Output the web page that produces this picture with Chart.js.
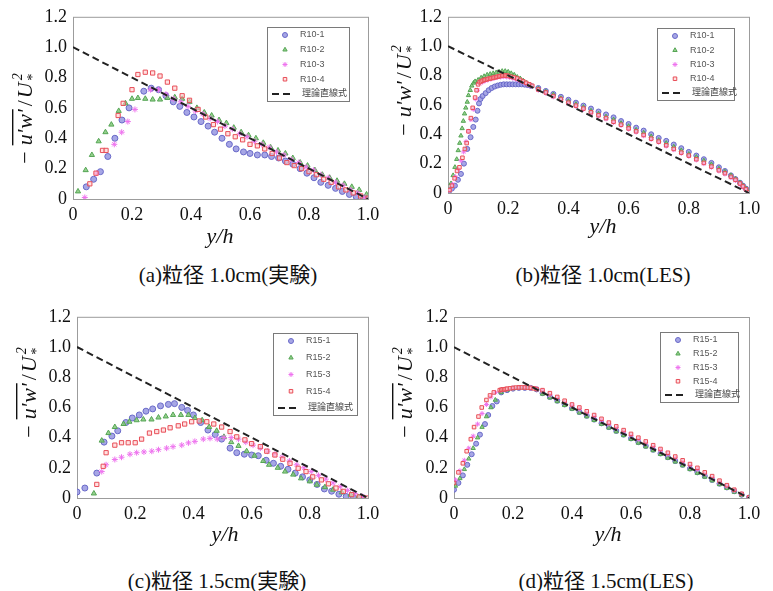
<!DOCTYPE html>
<html>
<head>
<meta charset="utf-8">
<script src="https://cdn.jsdelivr.net/npm/chart.js@4.4.0/dist/chart.umd.min.js"></script>
<style>
  body { margin: 0; background: #fff; width: 773px; height: 591px; position: relative; overflow: hidden; }
  canvas { position: absolute; }
  .cap { position: absolute; font-family: "Liberation Serif", "Noto Sans CJK JP", serif; font-size: 21px; color: #111; white-space: nowrap; transform: translateX(-50%); }
</style>
</head>
<body>
<canvas id="pa" width="386" height="250" style="left:0;top:0"></canvas>
<canvas id="pb" width="387" height="250" style="left:386px;top:0"></canvas>
<canvas id="pc" width="386" height="250" style="left:0;top:300px"></canvas>
<canvas id="pd" width="387" height="250" style="left:386px;top:300px"></canvas>
<div class="cap" style="left:228px;top:258px">(a)粒径 1.0cm(実験)</div>
<div class="cap" style="left:603px;top:258px">(b)粒径 1.0cm(LES)</div>
<div class="cap" style="left:217px;top:564px">(c)粒径 1.5cm(実験)</div>
<div class="cap" style="left:606px;top:564px">(d)粒径 1.5cm(LES)</div>
<script>
// tick labels and legend names
const xTicks = [0, 0.2, 0.4, 0.6, 0.8, 1.0];
const yTicks = [0, 0.2, 0.4, 0.6, 0.8, 1.0, 1.2];
const names10 = ["R10-1", "R10-2", "R10-3", "R10-4"];
const names15 = ["R15-1", "R15-2", "R15-3", "R15-4"];
const theoryName = "理論直線式";
const theoryX = [0, 1];
const theoryY = [1, 0];

// (a) 粒径 1.0cm 実験
const aX1 = [0.045,0.07,0.093,0.118,0.142,0.166,0.19,0.24,0.265,0.29,0.315,0.34,0.362,0.386,0.41,0.434,0.458,0.48,0.505,0.53,0.553,0.578,0.60,0.625,0.65,0.673,0.697,0.72,0.745,0.77,0.793,0.817,0.84,0.865,0.89,0.913,0.937,0.96,0.985];
const aY1 = [0.08,0.13,0.18,0.28,0.40,0.52,0.60,0.71,0.73,0.72,0.68,0.64,0.61,0.57,0.54,0.51,0.48,0.44,0.40,0.36,0.33,0.31,0.30,0.29,0.29,0.28,0.27,0.25,0.23,0.20,0.17,0.14,0.11,0.09,0.07,0.05,0.03,0.015,0.005];
const aX2 = [0.017,0.043,0.064,0.087,0.11,0.13,0.155,0.178,0.20,0.22,0.245,0.27,0.295,0.32,0.345,0.37,0.395,0.42,0.445,0.47,0.495,0.52,0.545,0.57,0.595,0.62,0.645,0.67,0.695,0.72,0.745,0.77,0.795,0.82,0.845,0.87,0.895,0.92,0.945,0.97,0.995];
const aY2 = [0.05,0.19,0.29,0.38,0.44,0.49,0.58,0.63,0.66,0.665,0.66,0.655,0.655,0.665,0.67,0.66,0.64,0.60,0.57,0.55,0.52,0.50,0.47,0.44,0.42,0.40,0.37,0.34,0.32,0.30,0.27,0.24,0.22,0.19,0.16,0.14,0.12,0.10,0.08,0.06,0.03];
const aX3 = [0.04,0.08,0.14,0.165,0.186,0.21,0.263,0.29,0.315,0.34,0.365,0.39,0.415,0.44,0.465,0.49,0.515,0.54,0.565,0.59,0.615,0.64,0.665,0.69,0.715,0.74,0.765,0.79,0.815,0.84,0.865,0.89,0.915,0.94,0.965,0.99];
const aY3 = [0.01,0.17,0.36,0.44,0.51,0.59,0.72,0.72,0.69,0.66,0.64,0.61,0.58,0.56,0.53,0.51,0.48,0.46,0.43,0.41,0.38,0.36,0.34,0.31,0.29,0.26,0.24,0.21,0.19,0.16,0.14,0.11,0.09,0.06,0.04,0.01];
const aX4 = [0.057,0.078,0.10,0.112,0.153,0.17,0.20,0.22,0.245,0.27,0.295,0.32,0.345,0.37,0.395,0.424,0.45,0.476,0.50,0.525,0.55,0.575,0.60,0.625,0.65,0.675,0.70,0.725,0.75,0.775,0.80,0.825,0.85,0.875,0.90,0.925,0.95,0.975,1.0];
const aY4 = [0.10,0.17,0.32,0.32,0.55,0.63,0.72,0.82,0.835,0.83,0.81,0.77,0.73,0.68,0.65,0.59,0.54,0.49,0.46,0.43,0.41,0.39,0.36,0.35,0.33,0.30,0.27,0.24,0.22,0.20,0.18,0.16,0.13,0.11,0.08,0.06,0.04,0.02,0.005];

// (b) 粒径 1.0cm LES : rising part near the bed, then the falling part
const bRiseX1 = [0.003,0.013,0.023,0.033,0.043,0.053,0.064,0.075,0.084,0.092,0.098,0.103,0.108,0.115,0.125,0.135,0.145,0.155,0.165,0.175,0.185,0.195,0.205,0.215,0.225,0.235,0.245,0.255,0.265,0.275];
const bRiseY1 = [0.01,0.03,0.05,0.09,0.13,0.20,0.30,0.38,0.45,0.50,0.56,0.61,0.64,0.66,0.68,0.70,0.715,0.725,0.732,0.737,0.74,0.74,0.74,0.74,0.74,0.74,0.74,0.738,0.735,0.73];
const bRiseX2 = [0.004,0.01,0.017,0.023,0.029,0.034,0.039,0.043,0.047,0.051,0.055,0.059,0.064,0.068,0.074,0.079,0.085,0.09,0.10,0.11,0.12,0.13,0.14,0.15,0.16,0.17,0.18,0.19,0.20,0.21,0.22,0.23,0.24,0.25,0.26,0.27];
const bRiseY2 = [0.02,0.065,0.12,0.176,0.23,0.29,0.34,0.39,0.44,0.49,0.54,0.58,0.62,0.665,0.70,0.73,0.75,0.76,0.77,0.785,0.795,0.805,0.81,0.815,0.82,0.825,0.83,0.83,0.825,0.815,0.805,0.79,0.78,0.765,0.75,0.735];
const bRiseX3 = [0.006,0.015,0.025,0.034,0.043,0.052,0.06,0.068,0.076,0.084,0.092,0.098,0.105,0.115,0.125,0.135,0.145,0.155,0.165,0.175,0.185,0.195,0.205,0.215,0.225,0.235,0.245,0.255,0.265,0.275];
const bRiseY3 = [0.02,0.06,0.11,0.16,0.22,0.28,0.35,0.42,0.50,0.57,0.64,0.70,0.745,0.755,0.765,0.772,0.778,0.783,0.788,0.79,0.792,0.79,0.787,0.782,0.776,0.768,0.76,0.75,0.74,0.73];
const bRiseX4 = [0.005,0.013,0.022,0.03,0.038,0.048,0.056,0.062,0.068,0.076,0.082,0.09,0.095,0.10,0.105,0.11,0.115,0.12,0.125,0.13,0.135,0.14,0.145,0.15,0.155,0.16,0.165,0.17,0.175,0.18,0.185,0.19,0.195,0.20,0.21,0.22,0.23,0.24,0.25,0.26,0.27,0.28];
const bRiseY4 = [0.02,0.05,0.10,0.15,0.175,0.24,0.30,0.34,0.42,0.51,0.58,0.65,0.70,0.74,0.755,0.76,0.765,0.77,0.772,0.775,0.778,0.78,0.782,0.785,0.787,0.79,0.792,0.795,0.797,0.80,0.80,0.80,0.80,0.797,0.792,0.787,0.78,0.77,0.76,0.75,0.74,0.73];
const bFallX = [0.3,0.325,0.35,0.375,0.4,0.425,0.45,0.475,0.5,0.525,0.55,0.575,0.6,0.625,0.65,0.675,0.7,0.725,0.75,0.775,0.8,0.825,0.85,0.875,0.9,0.92,0.94,0.955,0.97,0.98,0.99,1.0];
const bFallY1 = [0.715,0.695,0.675,0.655,0.635,0.615,0.595,0.575,0.555,0.535,0.515,0.49,0.47,0.445,0.425,0.40,0.375,0.355,0.33,0.305,0.28,0.255,0.23,0.205,0.175,0.15,0.12,0.095,0.07,0.05,0.03,0.01];
const bFallY2 = [0.71,0.69,0.67,0.645,0.625,0.605,0.585,0.56,0.54,0.52,0.50,0.475,0.455,0.43,0.41,0.385,0.36,0.34,0.315,0.29,0.265,0.245,0.22,0.195,0.165,0.145,0.12,0.095,0.07,0.05,0.03,0.01];
const bFallY3 = [0.70,0.68,0.655,0.635,0.61,0.59,0.57,0.545,0.525,0.505,0.48,0.46,0.435,0.415,0.39,0.365,0.345,0.32,0.295,0.27,0.25,0.225,0.20,0.175,0.15,0.13,0.105,0.085,0.06,0.04,0.02,0.005];
const bFallY4 = [0.705,0.685,0.66,0.64,0.615,0.595,0.575,0.55,0.53,0.51,0.485,0.465,0.44,0.42,0.395,0.37,0.35,0.325,0.30,0.275,0.255,0.23,0.205,0.18,0.155,0.135,0.11,0.09,0.065,0.045,0.025,0.005];

// (c) 粒径 1.5cm 実験
const cX1 = [0.0,0.027,0.068,0.093,0.12,0.14,0.168,0.19,0.214,0.237,0.26,0.287,0.314,0.335,0.36,0.38,0.40,0.425,0.45,0.475,0.497,0.526,0.549,0.575,0.60,0.623,0.65,0.675,0.70,0.725,0.75,0.775,0.80,0.825,0.85,0.875,0.9,0.925,0.95,0.975];
const cY1 = [0.04,0.066,0.165,0.37,0.41,0.445,0.50,0.53,0.55,0.575,0.59,0.61,0.62,0.625,0.60,0.58,0.55,0.50,0.45,0.42,0.39,0.33,0.30,0.29,0.285,0.28,0.25,0.23,0.21,0.19,0.165,0.14,0.12,0.09,0.06,0.045,0.025,0.01,0.004,0.0];
const cX2 = [0.058,0.085,0.108,0.13,0.16,0.18,0.205,0.228,0.256,0.28,0.305,0.33,0.357,0.383,0.405,0.43,0.454,0.48,0.505,0.53,0.555,0.583,0.61,0.64,0.66,0.69,0.715,0.743,0.77,0.80,0.824,0.852,0.88,0.91,0.94,0.967];
const cY2 = [0.03,0.38,0.43,0.47,0.49,0.505,0.515,0.52,0.52,0.533,0.54,0.55,0.55,0.55,0.53,0.515,0.47,0.445,0.405,0.37,0.345,0.31,0.28,0.245,0.22,0.20,0.175,0.155,0.13,0.11,0.088,0.072,0.055,0.037,0.022,0.007];
const cX3 = [0.085,0.10,0.13,0.153,0.182,0.205,0.23,0.257,0.28,0.308,0.33,0.36,0.383,0.405,0.434,0.457,0.482,0.505,0.53,0.555,0.58,0.605,0.63,0.655,0.68,0.705,0.73,0.755,0.78,0.805,0.83,0.855,0.88,0.905,0.93,0.955,0.98];
const cY3 = [0.175,0.22,0.255,0.27,0.29,0.30,0.305,0.31,0.32,0.33,0.34,0.35,0.365,0.375,0.39,0.395,0.39,0.40,0.40,0.39,0.37,0.35,0.33,0.31,0.29,0.27,0.245,0.22,0.20,0.175,0.15,0.125,0.10,0.075,0.05,0.03,0.01];
const cX4 = [0.068,0.09,0.10,0.13,0.153,0.176,0.20,0.222,0.249,0.274,0.297,0.32,0.348,0.37,0.394,0.42,0.446,0.47,0.497,0.526,0.549,0.577,0.60,0.63,0.652,0.68,0.707,0.732,0.76,0.787,0.81,0.84,0.864,0.89,0.915,0.944,0.97,0.995];
const cY4 = [0.09,0.21,0.30,0.35,0.366,0.366,0.366,0.39,0.43,0.44,0.45,0.465,0.478,0.49,0.505,0.51,0.505,0.49,0.47,0.44,0.405,0.385,0.36,0.34,0.31,0.285,0.257,0.23,0.197,0.175,0.14,0.12,0.094,0.066,0.044,0.022,0.007,0.0];

// (d) 粒径 1.5cm LES
const dRiseX1 = [0.0,0.015,0.03,0.045,0.06,0.075,0.088,0.105,0.116,0.13,0.145,0.16,0.18,0.20,0.22,0.24,0.26,0.28];
const dRiseY1 = [0.055,0.10,0.15,0.22,0.29,0.36,0.42,0.49,0.55,0.61,0.64,0.70,0.715,0.725,0.73,0.73,0.73,0.72];
const dRiseX2 = [0.005,0.02,0.035,0.05,0.065,0.08,0.095,0.11,0.125,0.14,0.16,0.18,0.20,0.22,0.24,0.26,0.28];
const dRiseY2 = [0.08,0.13,0.19,0.26,0.33,0.40,0.47,0.54,0.60,0.65,0.70,0.715,0.725,0.73,0.73,0.728,0.72];
const dRiseX3 = [0.005,0.02,0.035,0.05,0.065,0.08,0.095,0.11,0.125,0.14,0.16,0.18,0.20,0.22,0.24,0.26,0.28];
const dRiseY3 = [0.12,0.18,0.25,0.33,0.41,0.49,0.56,0.62,0.67,0.70,0.715,0.72,0.728,0.732,0.733,0.73,0.725];
const dRiseX4 = [0.0,0.015,0.03,0.043,0.057,0.068,0.083,0.094,0.11,0.122,0.135,0.155,0.16,0.165,0.17,0.175,0.18,0.19,0.20,0.21,0.22,0.23,0.24,0.25,0.26,0.27,0.28];
const dRiseY4 = [0.10,0.17,0.23,0.31,0.39,0.47,0.54,0.60,0.65,0.68,0.70,0.715,0.718,0.72,0.72,0.722,0.725,0.727,0.73,0.732,0.733,0.733,0.733,0.732,0.73,0.727,0.722];
const dFallX = [0.3,0.325,0.35,0.375,0.4,0.425,0.45,0.475,0.5,0.525,0.55,0.575,0.6,0.625,0.65,0.675,0.7,0.725,0.75,0.775,0.8,0.825,0.85,0.875,0.9,0.925,0.95,0.975,1.0];
const dFallY1 = [0.695,0.67,0.645,0.62,0.595,0.57,0.545,0.52,0.495,0.47,0.445,0.42,0.395,0.37,0.345,0.32,0.295,0.27,0.245,0.22,0.195,0.17,0.145,0.12,0.095,0.07,0.045,0.022,0.003];
const dFallY2 = [0.69,0.665,0.64,0.615,0.59,0.565,0.54,0.515,0.49,0.465,0.44,0.415,0.39,0.365,0.34,0.315,0.29,0.265,0.24,0.215,0.19,0.165,0.14,0.115,0.09,0.065,0.04,0.018,0.002];
const dFallY3 = [0.71,0.685,0.66,0.635,0.615,0.59,0.565,0.54,0.515,0.49,0.465,0.44,0.415,0.39,0.365,0.34,0.315,0.29,0.265,0.24,0.215,0.19,0.16,0.135,0.105,0.08,0.05,0.025,0.004];
const dFallY4 = [0.715,0.695,0.67,0.645,0.62,0.60,0.575,0.55,0.525,0.50,0.475,0.45,0.425,0.40,0.375,0.35,0.325,0.30,0.275,0.25,0.225,0.20,0.17,0.145,0.115,0.085,0.055,0.028,0.005];

function pts(xs, ys) {
  return xs.map((x, i) => ({ x: x, y: ys[i] }));
}

// marker looks for the four runs
const styles = [
  { pointStyle: "circle", borderColor: "rgb(105,105,200)", backgroundColor: "rgba(150,150,225,0.85)" },
  { pointStyle: "triangle", borderColor: "rgb(85,165,85)", backgroundColor: "rgba(130,200,120,0.85)" },
  { pointStyle: "star", borderColor: "rgb(238,115,238)", backgroundColor: "rgba(245,170,245,0.8)" },
  { pointStyle: "rect", borderColor: "rgb(232,78,88)", backgroundColor: "rgba(255,205,205,0.6)" },
];
const dash = [7, 4];

function fmt(v) {
  return v === 0 ? "0" : v.toFixed(1);
}

function drawYTitle(ctx, cx, cy, bar) {
  ctx.save();
  ctx.translate(cx, cy);
  ctx.rotate(-Math.PI / 2);
  const up = '22px "Liberation Serif"';
  const it = 'italic 22px "Liberation Serif"';
  const sm = 'italic 14px "Liberation Serif"';
  const parts = [
    { t: "\u2212", f: up, gap: 6 },
    { t: "u", f: it, gap: 0 },
    { t: "'", f: it, gap: 1 },
    { t: "w", f: it, gap: 0 },
    { t: "'", f: it, gap: 3 },
    { t: "/", f: up, gap: 2 },
    { t: "U", f: it, gap: 1 },
  ];
  let w = 0;
  parts.forEach((p) => {
    ctx.font = p.f;
    p.w = ctx.measureText(p.t).width;
    w += p.w + p.gap;
  });
  ctx.font = sm;
  w += ctx.measureText("2").width;
  let x = -w / 2;
  let b0 = 0, b1 = 0;
  ctx.fillStyle = "#111";
  ctx.textBaseline = "alphabetic";
  parts.forEach((p, i) => {
    ctx.font = p.f;
    if (i === 1) b0 = x;
    ctx.fillText(p.t, x, 0);
    x += p.w;
    if (i === 4) b1 = x;
    x += p.gap;
  });
  ctx.font = sm;
  ctx.fillText("2", x + 1, -10);
  ctx.fillText("*", x, 5);
  if (bar) ctx.fillRect(b0, -20, b1 - b0, 1.4);
  ctx.restore();
}

function drawLegend(ctx, lg, chart) {
  ctx.save();
  ctx.fillStyle = "#fff";
  ctx.fillRect(lg.x, lg.y, lg.w, lg.h);
  ctx.strokeStyle = "#7a7a7a";
  ctx.lineWidth = 1;
  ctx.strokeRect(lg.x + 0.5, lg.y + 0.5, lg.w, lg.h);
  const step = (lg.h - 15) / 4;
  ctx.textBaseline = "middle";
  ctx.font = '9px "Liberation Sans", "Noto Sans CJK JP"';
  for (let i = 0; i < 5; i++) {
    const cy = lg.y + 8 + step * i;
    if (i < 4) {
      const ds = chart.data.datasets[4 - i];
      ctx.fillStyle = ds.backgroundColor;
      ctx.strokeStyle = ds.borderColor;
      ctx.lineWidth = 1;
      Chart.helpers.drawPoint(ctx, { pointStyle: ds.pointStyle, radius: 2.5, borderWidth: 1, rotation: 0 }, lg.x + 18, cy);
      ctx.fillStyle = "#555";
      ctx.fillText(ds.label, lg.x + 33, cy);
    } else {
      ctx.strokeStyle = "#222";
      ctx.lineWidth = 2;
      ctx.setLineDash([7, 4]);
      ctx.beginPath();
      ctx.moveTo(lg.x + 5, cy);
      ctx.lineTo(lg.x + 27, cy);
      ctx.stroke();
      ctx.setLineDash([]);
      ctx.fillStyle = "#444";
      ctx.fillText(theoryName, lg.x + 35, cy);
    }
  }
  ctx.restore();
}

const decor = {
  id: "decor",
  beforeDatasetsDraw(chart) {
    const { ctx, chartArea: a } = chart;
    ctx.save();
    ctx.strokeStyle = "#9c9c9c";
    ctx.lineWidth = 1;
    ctx.strokeRect(a.left + 0.5, a.top + 0.5, a.right - a.left, a.bottom - a.top);
    ctx.restore();
  },
  afterDraw(chart, args, o) {
    const ctx = chart.ctx;
    drawYTitle(ctx, o.yTitle.x, o.yTitle.y, o.yTitle.bar);
    ctx.save();
    ctx.fillStyle = "#111";
    ctx.font = 'italic 22px "Liberation Serif"';
    ctx.textAlign = "center";
    ctx.fillText("y/h", o.xTitle.x, o.xTitle.y);
    ctx.restore();
    drawLegend(ctx, o.legend, chart);
  },
};

function makePanel(id, p) {
  const canvas = document.getElementById(id);
  const W = canvas.width, H = canvas.height;
  const series = p.series.map((s, i) =>
    Object.assign({
      label: p.names[i],
      data: pts(s[0], s[1]),
      pointRadius: p.radius,
      pointBorderWidth: 1,
      showLine: false,
    }, styles[i])
  );
  new Chart(canvas, {
    type: "scatter",
    data: {
      datasets: [
        {
          label: theoryName,
          data: pts(theoryX, theoryY),
          showLine: true,
          borderColor: "#222",
          borderWidth: 2,
          borderDash: dash,
          pointRadius: 0,
          fill: false,
        },
        series[3], series[2], series[1], series[0],
      ],
    },
    options: {
      responsive: false,
      animation: false,
      layout: { padding: { left: 0, top: p.area[1], right: W - p.area[2], bottom: 0 } },
      plugins: {
        legend: { display: false },
        tooltip: { enabled: false },
        decor: { yTitle: p.yTitle, xTitle: p.xTitle, legend: p.legend },
      },
      scales: {
        x: {
          type: "linear",
          min: 0,
          max: 1,
          afterFit: (s) => { s.height = H - p.area[3]; },
          afterBuildTicks: (s) => { s.ticks = xTicks.map((v) => ({ value: v })); },
          ticks: { padding: 5, maxRotation: 0, autoSkip: false, color: "#111", font: { family: "Liberation Serif", size: 18 }, callback: fmt },
          grid: { display: false, drawTicks: false },
          border: { display: false },
        },
        y: {
          type: "linear",
          min: 0,
          max: 1.2,
          afterFit: (s) => { s.width = p.area[0]; },
          afterBuildTicks: (s) => { s.ticks = yTicks.map((v) => ({ value: v })); },
          ticks: { padding: 6, autoSkip: false, color: "#111", font: { family: "Liberation Serif", size: 18 }, callback: fmt },
          grid: { display: false, drawTicks: false },
          border: { display: false },
        },
      },
    },
    plugins: [decor],
  });
}

document.addEventListener("DOMContentLoaded", () => {
  makePanel("pa", {
    area: [73, 15, 368, 199], radius: 3, names: names10,
    series: [[aX1, aY1], [aX2, aY2], [aX3, aY3], [aX4, aY4]],
    yTitle: { x: 32, y: 119, bar: true }, xTitle: { x: 220, y: 243 },
    legend: { x: 267, y: 27, w: 82, h: 74 },
  });
  makePanel("pb", {
    area: [62, 13, 363, 193], radius: 2.5, names: names10,
    series: [
      [bRiseX1.concat(bFallX), bRiseY1.concat(bFallY1)],
      [bRiseX2.concat(bFallX), bRiseY2.concat(bFallY2)],
      [bRiseX3.concat(bFallX), bRiseY3.concat(bFallY3)],
      [bRiseX4.concat(bFallX), bRiseY4.concat(bFallY4)],
    ],
    yTitle: { x: 25, y: 91, bar: false }, xTitle: { x: 217, y: 233 },
    legend: { x: 271, y: 28, w: 77, h: 72 },
  });
  makePanel("pc", {
    area: [77, 16, 368, 198], radius: 3, names: names15,
    series: [[cX1, cY1], [cX2, cY2], [cX3, cY3], [cX4, cY4]],
    yTitle: { x: 36, y: 93, bar: true }, xTitle: { x: 225, y: 241 },
    legend: { x: 273, y: 33, w: 84, h: 82 },
  });
  makePanel("pd", {
    area: [68, 17, 363, 198], radius: 2.5, names: names15,
    series: [
      [dRiseX1.concat(dFallX), dRiseY1.concat(dFallY1)],
      [dRiseX2.concat(dFallX), dRiseY2.concat(dFallY2)],
      [dRiseX3.concat(dFallX), dRiseY3.concat(dFallY3)],
      [dRiseX4.concat(dFallX), dRiseY4.concat(dFallY4)],
    ],
    yTitle: { x: 26, y: 93, bar: true }, xTitle: { x: 222, y: 241 },
    legend: { x: 274, y: 32, w: 78, h: 70 },
  });
});
</script>
</body>
</html>
